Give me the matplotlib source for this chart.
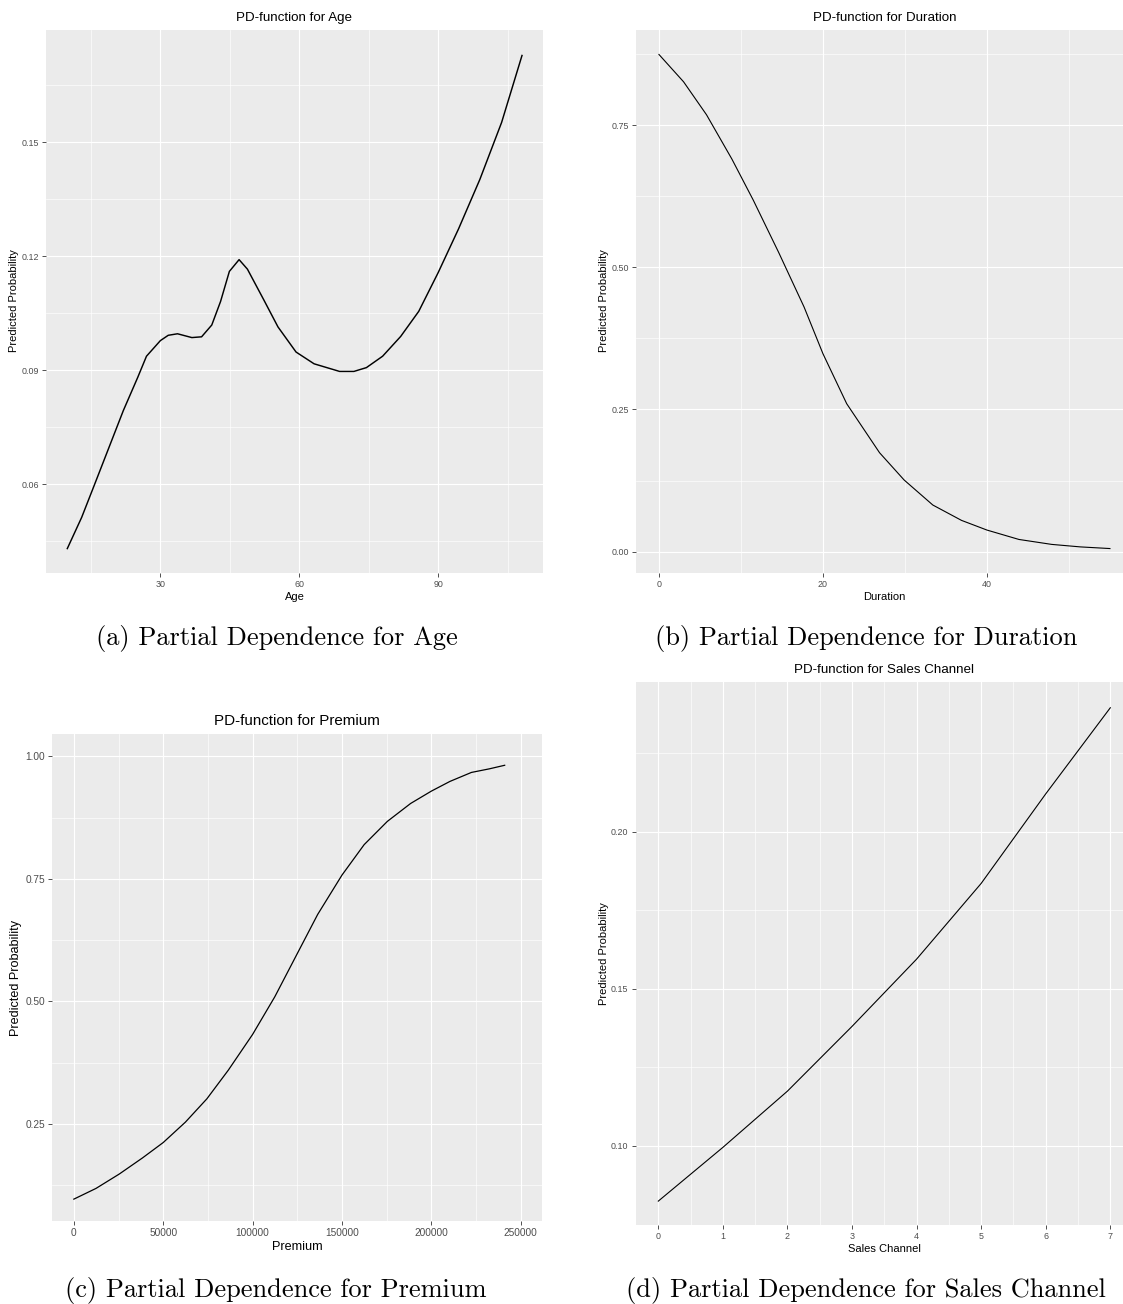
import numpy as np
import matplotlib
matplotlib.use("Agg")
import matplotlib.pyplot as plt
from matplotlib.ticker import FixedLocator, FuncFormatter

W, H = 1123, 1304

# --- data ---
age = [9.9, 13.0, 15.8, 18.9, 22.0, 25.1, 27.0, 30.0, 31.7, 33.7, 36.8, 38.9,
       41.1, 43.0, 44.9, 47.0, 48.8, 52.3, 55.4, 59.3, 63.2, 68.7, 71.8, 74.5,
       78.0, 81.9, 85.8, 90.0, 94.4, 99.0, 103.7, 108.1]
age_pd = [0.0431, 0.0513, 0.0600, 0.0697, 0.0794, 0.0881, 0.0937, 0.0978,
          0.0992, 0.0996, 0.0986, 0.0988, 0.1019, 0.1081, 0.1160, 0.1191,
          0.1166, 0.1086, 0.1014, 0.0948, 0.0917, 0.0897, 0.0897, 0.0907,
          0.0937, 0.0989, 0.1055, 0.1157, 0.1272, 0.1402, 0.1552, 0.1728]

duration = [0, 3.0, 5.8, 8.9, 11.5, 14.6, 17.7, 20.0, 22.9, 26.9, 29.9, 33.4,
            36.9, 40.0, 43.9, 47.9, 51.4, 55.0]
duration_pd = [0.874, 0.826, 0.768, 0.690, 0.618, 0.526, 0.430, 0.348, 0.260,
               0.174, 0.126, 0.082, 0.055, 0.038, 0.0215, 0.0128, 0.0084, 0.0055]

premium = [0, 12400, 25400, 38400, 50000, 62400, 74400, 86400, 100000, 112400,
           124400, 136400, 150000, 162400, 175400, 188400, 200000, 210400,
           222400, 232400, 241000]
premium_pd = [0.0966, 0.1185, 0.1478, 0.1807, 0.2121, 0.2537, 0.3012, 0.3597,
              0.4327, 0.5094, 0.5935, 0.6775, 0.7578, 0.8199, 0.8674, 0.9039,
              0.9291, 0.9489, 0.9672, 0.9745, 0.9818]

channel = [0, 1, 2, 3, 4, 5, 6, 7]
channel_pd = [0.0824, 0.0995, 0.1174, 0.1380, 0.1594, 0.1835, 0.2120, 0.2394]

captions = ["(a) Partial Dependence for Age",
            "(b) Partial Dependence for Duration",
            "(c) Partial Dependence for Premium",
            "(d) Partial Dependence for Sales Channel"]

SANS = ["Liberation Sans", "DejaVu Sans"]


def px_axes(fig, left, top, right, bottom):
    return fig.add_axes([left / W, 1 - bottom / H, (right - left) / W, (bottom - top) / H])


def fig_text(fig, x, y, s, **kw):
    fig.text(x / W, 1 - y / H, s, ha="center", va="center", **kw)


def ggplot_panel(ax, base, xmajor, xminor, ymajor, yminor, xfmt, yfmt):
    ax.set_facecolor("#EBEBEB")
    for s in ax.spines.values():
        s.set_visible(False)
    ax.xaxis.set_major_locator(FixedLocator(xmajor))
    ax.xaxis.set_minor_locator(FixedLocator(xminor))
    ax.yaxis.set_major_locator(FixedLocator(ymajor))
    ax.yaxis.set_minor_locator(FixedLocator(yminor))
    ax.xaxis.set_major_formatter(FuncFormatter(lambda v, p: xfmt.format(v)))
    ax.yaxis.set_major_formatter(FuncFormatter(lambda v, p: yfmt.format(v)))
    ax.grid(which="major", color="white", linewidth=0.85)
    ax.grid(which="minor", color="white", linewidth=0.45)
    ax.set_axisbelow(True)
    ax.tick_params(which="major", length=2.9, width=0.6, color="#333333",
                   labelcolor="#4D4D4D", labelsize=base * 0.8, pad=2.2)
    ax.tick_params(which="minor", length=0)
    for lab in ax.get_xticklabels() + ax.get_yticklabels():
        lab.set_family(SANS)


fig = plt.figure(figsize=(W / 100, H / 100), dpi=100)
fig.patch.set_facecolor("white")

# (a) Age
ax = px_axes(fig, 46, 30, 543.3, 573.3)
ax.plot(age, age_pd, color="black", linewidth=1.05)
ax.set_xlim(5.3, 112.7)
ax.set_ylim(0.0366, 0.1795)
ggplot_panel(ax, 8.0, [30, 60, 90], [15, 45, 75, 105],
             [0.06, 0.09, 0.12, 0.15], [0.045, 0.075, 0.105, 0.135, 0.165],
             "{:.0f}", "{:.2f}")
fig_text(fig, 294.5, 18, "PD-function for Age", fontsize=9.6, family=SANS)
fig_text(fig, 294.5, 597, "Age", fontsize=8.0, family=SANS)
fig_text(fig, 14, 301, "Predicted Probability", fontsize=8.0, family=SANS, rotation=90)

# (b) Duration
ax = px_axes(fig, 636.4, 30, 1132.5, 573.3)
ax.plot(duration, duration_pd, color="black", linewidth=0.8)
ax.set_xlim(-2.75, 57.75)
ax.set_ylim(-0.038, 0.917)
ggplot_panel(ax, 8.0, [0, 20, 40], [10, 30, 50],
             [0.0, 0.25, 0.5, 0.75], [0.125, 0.375, 0.625, 0.875],
             "{:.0f}", "{:.2f}")
fig_text(fig, 884.5, 18, "PD-function for Duration", fontsize=9.6, family=SANS)
fig_text(fig, 884.5, 597, "Duration", fontsize=8.0, family=SANS)
fig_text(fig, 604, 301, "Predicted Probability", fontsize=8.0, family=SANS, rotation=90)

# (c) Premium
ax = px_axes(fig, 52.3, 734.3, 542.3, 1221)
ax.plot(premium, premium_pd, color="black", linewidth=0.9)
ax.set_xlim(-12050, 262050)
ax.set_ylim(0.052, 1.045)
ggplot_panel(ax, 9.1, [0, 50000, 100000, 150000, 200000, 250000],
             [25000, 75000, 125000, 175000, 225000],
             [0.25, 0.5, 0.75, 1.0], [0.125, 0.375, 0.625, 0.875],
             "{:.0f}", "{:.2f}")
fig_text(fig, 297, 721, "PD-function for Premium", fontsize=10.9, family=SANS)
fig_text(fig, 297, 1247, "Premium", fontsize=9.1, family=SANS)
fig_text(fig, 16, 978, "Predicted Probability", fontsize=9.1, family=SANS, rotation=90)

# (d) Sales Channel
ax = px_axes(fig, 635.7, 682, 1132.9, 1225)
ax.plot(channel, channel_pd, color="black", linewidth=0.8)
ax.set_xlim(-0.35, 7.35)
ax.set_ylim(0.0748, 0.2476)
ggplot_panel(ax, 8.0, list(range(8)), [0.5, 1.5, 2.5, 3.5, 4.5, 5.5, 6.5],
             [0.10, 0.15, 0.20], [0.125, 0.175, 0.225],
             "{:.0f}", "{:.2f}")
fig_text(fig, 884.5, 670, "PD-function for Sales Channel", fontsize=9.6, family=SANS)
fig_text(fig, 884.5, 1249, "Sales Channel", fontsize=8.0, family=SANS)
fig_text(fig, 604, 954, "Predicted Probability", fontsize=8.0, family=SANS, rotation=90)

# captions under each sub-figure
for (cx, cy), cap in zip([(277, 639), (866, 639), (276, 1291), (866, 1291)], captions):
    fig_text(fig, cx, cy, cap, fontsize=19, family=["cmr10", "DejaVu Serif"])

fig.savefig("out.png", dpi=100)
